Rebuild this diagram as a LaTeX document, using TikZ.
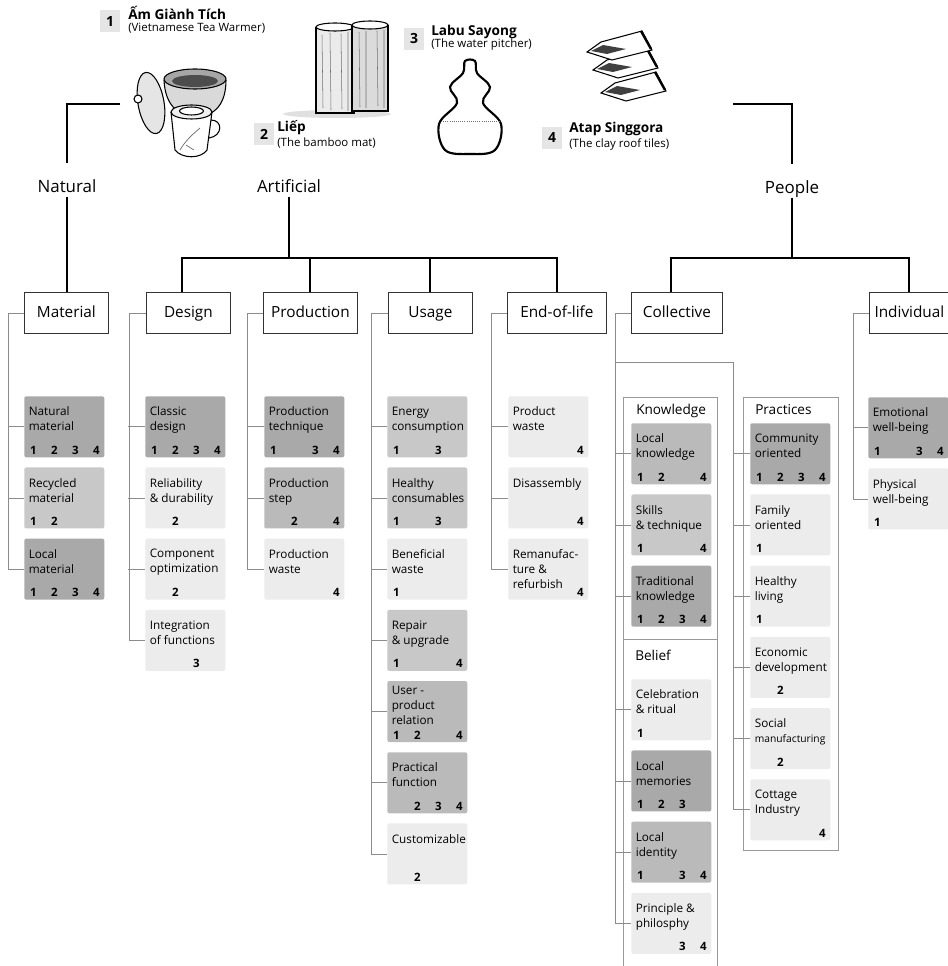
\documentclass[tikz,border=0pt]{standalone}
\usepackage{fontspec}
\setmainfont{Open Sans}
\usetikzlibrary{positioning}

\definecolor{tone4}{HTML}{A9A9A9}
\definecolor{tone3}{HTML}{BABABA}
\definecolor{tone2}{HTML}{C8C8C8}
\definecolor{tone1}{HTML}{ECECEC}

\newcommand{\prods}[4]{\makebox[15.75pt]{#1}\makebox[15.75pt]{#2}\makebox[15.75pt]{#3}\makebox[15.75pt]{#4}}

\tikzset{
    trunk/.style = {draw = black, line width = 1.5pt},
    twig/.style = {draw = black!45, line width = 0.6pt},
    groupframe/.style = {draw = black!40, line width = 0.7pt},
    sketch/.style = {draw = black, line width = 0.8pt},
    branch/.style = {anchor = base, inner sep = 0pt, text height = 9.6pt, text depth = 2.5pt, font = \fontsize{12.7}{15}\selectfont},
    catbox/.style = {rectangle, draw = black!80, line width = 0.6pt, anchor = north west, minimum width = #1, minimum height = 30.75pt, inner sep = 0pt, text height = 8.6pt, text depth = 2.4pt, font = \fontsize{11.5}{13}\selectfont},
    grouphead/.style = {anchor = base west, inner sep = 0pt, font = \fontsize{10.2}{12}\selectfont},
    item/.style n args = {3}{rectangle, rounded corners = 1.5pt, anchor = north west, minimum width = 60pt, minimum height = 45.75pt, inner sep = 0pt, fill = #1, label = {[itext]north west:#2}, label = {[nums]south west:#3}},
    itext/.style = {anchor = north west, inner sep = 0pt, xshift = 3.4pt, yshift = -8.1pt, align = left, font = \fontsize{8.8}{11.25}\selectfont},
    nums/.style = {anchor = base west, inner sep = 0pt, xshift = -1.1pt, yshift = 2.5pt, font = \bfseries\fontsize{8.6}{9}\selectfont},
    numtag/.style = {fill = black!10, minimum width = 15pt, minimum height = 16.5pt, inner sep = 0pt, font = \bfseries\fontsize{10.5}{12}\selectfont},
    prodname/.style = {anchor = base west, inner sep = 0pt, font = \bfseries\fontsize{10.2}{12}\selectfont},
    prodnote/.style = {anchor = base west, inner sep = 0pt, font = \fontsize{8.6}{10}\selectfont},
    node distance = 7.25pt
}

\begin{document}
\begin{tikzpicture}[x = 0.75pt, y = -0.75pt]
    \useasboundingbox (0,0) rectangle (948,966);
    \fill [white] (0,0) rectangle (948,966);

    % tea warmer
    \draw [sketch, fill = black!15] (164,80) .. controls (165,104) and (177,116) .. (196,117) .. controls (215,116) and (226,104) .. (226,80);
    \draw [sketch, fill = black!35] (195,79) ellipse [x radius = 31, y radius = 10];
    \fill [black!70] (195,81) ellipse [x radius = 23, y radius = 6];
    \draw [sketch, fill = black!10, rotate around = {10:(151,103)}] (151,103) ellipse [x radius = 13, y radius = 31];
    \draw [sketch, fill = white] (138,99) circle [radius = 4];
    \draw [sketch, fill = white] (171,112) -- (175,150) .. controls (182,159) and (201,159) .. (207,150) -- (212,112);
    \draw [sketch, fill = black!6] (191.5,112) ellipse [x radius = 20.5, y radius = 7];
    \draw [sketch, fill = white] (191.5,111) ellipse [x radius = 12, y radius = 4];
    \draw [sketch] (211,120) .. controls (223,120) and (223,136) .. (209,138);
    \draw [black!60, line width = 0.5pt] (180,150) .. controls (186,140) and (192,135) .. (200,128) (186,145) -- (194,150);

    % bamboo mat
    \fill [black!12] (337,114) ellipse [x radius = 54, y radius = 4];
    \draw [sketch, fill = black!8] (316,27) -- (316,113) -- (354,113) -- (354,27);
    \draw [sketch, fill = white] (335,27) ellipse [x radius = 19, y radius = 4];
    \draw [sketch, fill = black!14] (352,25) -- (352,111) -- (388,111) -- (388,25);
    \draw [sketch, fill = white] (370,25) ellipse [x radius = 18, y radius = 4];
    \draw [black!55, line width = 0.4pt] (322,35) -- (323,108) (330,33) -- (331,110) (341,34) -- (342,109) (348,32) -- (348,111) (359,32) -- (360,107) (366,31) -- (366,108) (377,31) -- (378,106) (384,30) -- (384,108);

    % water pitcher
    \draw [line width = 1.6pt, fill = white] plot [smooth cycle, tension = 0.6] coordinates {(465,61) (475,61) (477,73) (490,87) (483,103) (501,124) (495,150) (470,154) (445,150) (439,124) (457,103) (450,87) (463,73)};
    \draw [black!55, line width = 0.6pt, densely dotted] (441,121) -- (499,121);

    % roof tiles
    \foreach \dx/\dy in {14/41, 6/18, 0/0} {
        \begin{scope}[shift = {(\dx,\dy)}]
            \draw [sketch, fill = white] (587,52) -- (601,42) -- (642,31) -- (652,50) -- (612,60) -- cycle;
            \draw [line width = 1.8pt] (641,31) -- (651,49);
            \fill [black!75] (591,51) -- (603,45) -- (626,49) -- (607,54) -- cycle;
        \end{scope}
    }

    \node [numtag] (n1) at (110,21.5) {1};
    \node [prodname] (t1) at (128,20) {Ấm Giành Tích};
    \node [prodnote] (s1) at (128,31.5) {(Vietnamese Tea Warmer)};
    \node [numtag] (n2) at (264,134) {2};
    \node [prodname] (t2) at (277,132) {Liếp};
    \node [prodnote] (s2) at (277,147) {(The bamboo mat)};
    \node [numtag] (n3) at (414,39) {3};
    \node [prodname] (t3) at (431,36) {Labu Sayong};
    \node [prodnote] (s3) at (431,48) {(The water pitcher)};
    \node [numtag] (n4) at (552,138) {4};
    \node [prodname] (t4) at (569,133) {Atap Singgora};
    \node [prodnote] (s4) at (569,148) {(The clay roof tiles)};

    \node [branch] (natural) at (67,193) {Natural};
    \node [branch] (artificial) at (289,193) {Artificial};
    \node [branch] (people) at (792,194) {People};

    \node [catbox = 63pt] (material) at (24,292) {Material};
    \node [catbox = 63pt] (design) at (146,292) {Design};
    \node [catbox = 70.5pt] (production) at (263,292) {Production};
    \node [catbox = 63pt] (usage) at (388,292) {Usage};
    \node [catbox = 74.25pt] (endlife) at (507,292) {End-of-life};
    \node [catbox = 68.25pt] (collective) at (631,292) {Collective};
    \node [catbox = 60pt] (individual) at (869,292) {Individual};

    \coordinate (warmer) at (120,104);
    \coordinate (tiles) at (733,104);
    \coordinate (artfork) at (289,258);
    \coordinate (pplfork) at (792,258);
    \draw [trunk] (warmer) -| ([yshift = 13pt]natural.north);
    \draw [trunk] (natural.south) -- (natural.south |- material.north);
    \draw [trunk] (artificial.south) -- (artfork);
    \draw [trunk] ([xshift = -4.5pt]design.north) |- (artfork) -| (endlife.north);
    \draw [trunk] (production.north) -- (production.north |- artfork);
    \draw [trunk] (usage.north) -- (usage.north |- artfork);
    \draw [trunk] (tiles) -| ([yshift = 13pt]people.north);
    \draw [trunk] (people.south) -- (pplfork);
    \draw [trunk] ([xshift = -4.8pt]collective.north) |- (pplfork) -| (individual.north);

    \draw [groupframe] (623,970) |- (717,397) -- (717,970);
    \draw [groupframe] (623,639) -- (717,639);
    \draw [groupframe] (743,397) rectangle (838,850);
    \node [grouphead] (knowhead) at (636,414) {Knowledge};
    \node [grouphead] (belihead) at (635,660) {Belief};
    \node [grouphead] (prachead) at (755,414) {Practices};

    \node [item = {tone4}{Natural\\material}{\prods1234}] (natmat) at (24,396) {};
    \node [item = {tone2}{Recycled\\material}{\prods12{}{}}, below = of natmat] (recmat) {};
    \node [item = {tone4}{Local\\material}{\prods1234}, below = of recmat] (locmat) {};

    \node [item = {tone4}{Classic\\design}{\prods1234}] (classic) at (145,396) {};
    \node [item = {tone1}{Reliability\\\& durability}{\prods{}2{}{}}, below = of classic] (reliab) {};
    \node [item = {tone1}{Component\\optimization}{\prods{}2{}{}}, below = of reliab] (compopt) {};
    \node [item = {tone1}{Integration\\of functions}{\prods{}{}3{}}, below = of compopt] (integr) {};

    \node [item = {tone4}{Production\\technique}{\prods1{}34}] (prodtech) at (264,396) {};
    \node [item = {tone3}{Production\\step}{\prods{}2{}4}, below = of prodtech] (prodstep) {};
    \node [item = {tone1}{Production\\waste}{\prods{}{}{}4}, below = of prodstep] (prodwst) {};

    \node [item = {tone2}{Energy\\consumption}{\prods1{}3{}}] (energy) at (387,396) {};
    \node [item = {tone2}{Healthy\\consumables}{\prods1{}3{}}, below = of energy] (healthy) {};
    \node [item = {tone1}{Beneficial\\waste}{\prods1{}{}{}}, below = of healthy] (benwaste) {};
    \node [item = {tone2}{Repair\\\& upgrade}{\prods1{}{}4}, below = of benwaste] (repair) {};
    \node [item = {tone3}{}{\prods12{}4}, label = {[itext, yshift = 4.5pt]north west:User -\\product\\relation}, below = of repair] (userrel) {};
    \node [item = {tone3}{Practical\\function}{\prods{}234}, below = of userrel] (practic) {};
    \node [item = {tone1}{Customizable}{\prods{}2{}{}}, below = of practic] (custom) {};

    \node [item = {tone1}{Product\\waste}{\prods{}{}{}4}] (pwaste) at (508,396) {};
    \node [item = {tone1}{Disassembly}{\prods{}{}{}4}, below = of pwaste] (disasm) {};
    \node [item = {tone1}{Remanufac-\\ture \&\\refurbish}{\prods{}{}{}4}, below = of disasm] (reman) {};

    \node [item = {tone3}{Local\\knowledge}{\prods12{}4}] (locknow) at (631,423) {};
    \node [item = {tone2}{Skills\\\& technique}{\prods1{}{}4}, below = of locknow] (skills) {};
    \node [item = {tone4}{Traditional\\knowledge}{\prods1234}, below = of skills] (tradknow) {};

    \node [item = {tone1}{Celebration\\\& ritual}{\prods1{}{}{}}] (celebr) at (631,679) {};
    \node [item = {tone4}{Local\\memories}{\prods123{}}, below = of celebr] (locmem) {};
    \node [item = {tone3}{Local\\identity}{\prods1{}34}, below = of locmem] (locid) {};
    \node [item = {tone1}{Principle \&\\philosphy}{\prods{}{}34}, below = of locid] (princ) {};

    \node [item = {tone4}{Community\\oriented}{\prods1234}] (commun) at (750,423) {};
    \node [item = {tone1}{Family\\oriented}{\prods1{}{}{}}, below = of commun] (family) {};
    \node [item = {tone1}{Healthy\\living}{\prods1{}{}{}}, below = of family] (hliving) {};
    \node [item = {tone1}{Economic\\development}{\prods{}2{}{}}, below = of hliving] (econ) {};
    \node [item = {tone1}{Social\\{\fontsize{7.7}{9}\selectfont manufacturing}}{\prods{}2{}{}}, below = of econ] (social) {};
    \node [item = {tone1}{Cottage\\Industry}{\prods{}{}{}4}, below = of social] (cottage) {};

    \node [item = {tone4}{Emotional\\well-being}{\prods1{}34}] (emotion) at (868,397) {};
    \node [item = {tone1}{Physical\\well-being}{\prods1{}{}{}}, below = of emotion] (physic) {};

    \draw [twig] (material.west) -- ++(-16,0) |- (locmat.west);
    \draw [twig] (natmat.west) -- ++(-16,0) (recmat.west) -- ++(-16,0);
    \draw [twig] (design.west) -- ++(-17,0) |- (integr.west);
    \draw [twig] (classic.west) -- ++(-17,0) (reliab.west) -- ++(-17,0) (compopt.west) -- ++(-17,0);
    \draw [twig] (production.west) -- ++(-16,0) |- (prodwst.west);
    \draw [twig] (prodtech.west) -- ++(-17,0) (prodstep.west) -- ++(-17,0);
    \draw [twig] (usage.west) -- ++(-17,0) |- (custom.west);
    \draw [twig] (energy.west) -- ++(-16,0) (healthy.west) -- ++(-16,0) (benwaste.west) -- ++(-16,0) (repair.west) -- ++(-16,0) (userrel.west) -- ++(-16,0) (practic.west) -- ++(-16,0);
    \draw [twig] (endlife.west) -- ++(-16,0) |- (reman.west);
    \draw [twig] (pwaste.west) -- ++(-17,0) (disasm.west) -- ++(-17,0);
    \draw [twig] (collective.west) -- ++(-16,0) |- (princ.west);
    \draw [twig] (locknow.west) -- ++(-16,0) (skills.west) -- ++(-16,0) (tradknow.west) -- ++(-16,0) (celebr.west) -- ++(-16,0) (locmem.west) -- ++(-16,0) (locid.west) -- ++(-16,0);
    \coordinate (colfork) at (615,362);
    \coordinate (pracfork) at (733,362);
    \draw [twig] (colfork) -- (pracfork) |- (cottage.west);
    \draw [twig] (commun.west) -- (commun.west -| pracfork) (family.west) -- (family.west -| pracfork) (hliving.west) -- (hliving.west -| pracfork) (econ.west) -- (econ.west -| pracfork) (social.west) -- (social.west -| pracfork);
    \draw [twig] (individual.west) -- ++(-16,0) |- (physic.west);
    \draw [twig] (emotion.west) -- ++(-15,0);
\end{tikzpicture}
\end{document}
